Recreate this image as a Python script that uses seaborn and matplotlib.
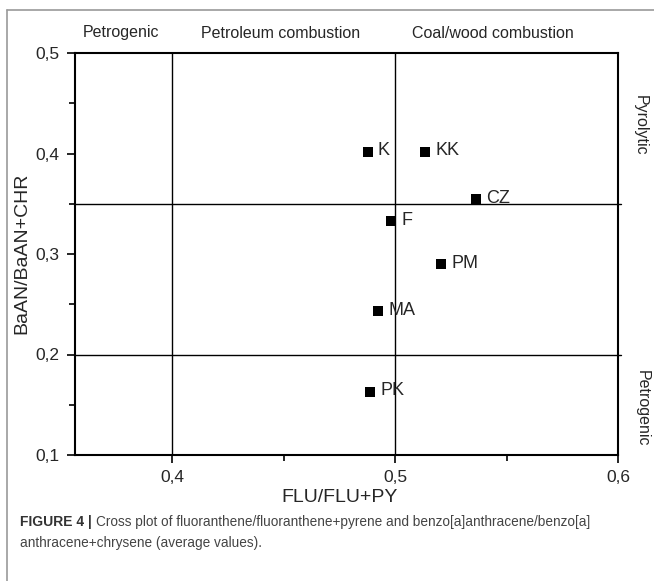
import matplotlib
matplotlib.use("Agg")
import matplotlib.pyplot as plt
from matplotlib.lines import Line2D
from matplotlib.ticker import MultipleLocator
import seaborn as sns
import pandas as pd

# data
sites = ["K", "KK", "CZ", "F", "PM", "MA", "PK"]
flu_ratio = [0.4877, 0.5135, 0.5363, 0.4981, 0.5207, 0.4922, 0.4888]
baan_ratio = [0.4018, 0.4018, 0.3544, 0.3331, 0.2900, 0.2433, 0.1630]

x_limits = [0.4, 0.5]      # vertical divisions
y_limits = [0.35, 0.2]     # horizontal divisions

df = pd.DataFrame({"site": sites, "flu": flu_ratio, "baan": baan_ratio})

sns.set_theme(style="white")
plt.rcParams["font.family"] = ["Liberation Sans", "DejaVu Sans"]

W, H = 654, 581
fig = plt.figure(figsize=(W/100, H/100), dpi=100)
ax = fig.add_axes([75/W, 1-455/H, (618-75)/W, (455-53)/H])

sns.scatterplot(data=df, x="flu", y="baan", marker="s", color="black",
                s=45, edgecolor="black", linewidth=0, ax=ax, zorder=3)
for _, r in df.iterrows():
    ax.annotate(r["site"], (r["flu"], r["baan"]), xytext=(7.5, 0.5),
                textcoords="offset points", va="center", ha="left", fontsize=13)

for xv in x_limits:
    ax.axvline(xv, color="black", lw=1)
for yv in y_limits:
    ax.plot([0.3565, 0.6015], [yv, yv], color="black", lw=1, clip_on=False)

ax.set_xlim(0.3565, 0.6)
ax.set_ylim(0.1, 0.5)
ax.set_xticks([0.4, 0.5, 0.6])
ax.xaxis.set_minor_locator(MultipleLocator(0.05))
ax.yaxis.set_major_locator(MultipleLocator(0.1))
ax.yaxis.set_minor_locator(MultipleLocator(0.05))
ax.xaxis.set_major_formatter(lambda v, p: f"{v:.1f}".replace(".", ","))
ax.yaxis.set_major_formatter(lambda v, p: f"{v:.1f}".replace(".", ","))
ax.tick_params(which="both", direction="out", color="black", bottom=True, left=True)
ax.tick_params(which="major", length=6, width=1.2, labelsize=12.5, pad=5)
ax.tick_params(which="minor", length=4, width=1.2)
for sp in ax.spines.values():
    sp.set_color("black")
    sp.set_linewidth(1.5)

ax.set_xlabel("")
ax.set_ylabel("")
fig.text(340/W, 1-498/H, "FLU/FLU+PY", ha="center", va="center", fontsize=14)
fig.text(22/W, 1-253/H, "BaAN/BaAN+CHR", ha="center", va="center", rotation=90, fontsize=14)

# zone labels
fig.text(121/W, 1-33/H, "Petrogenic", ha="center", va="center", fontsize=11.5)
fig.text(281/W, 1-33/H, "Petroleum combustion", ha="center", va="center", fontsize=11.5)
fig.text(493/W, 1-33/H, "Coal/wood combustion", ha="center", va="center", fontsize=11.5)
fig.text(640/W, 1-125/H, "Pyrolytic", rotation=-90, ha="center", va="center", fontsize=11.5)
fig.text(642/W, 1-408/H, "Petrogenic", rotation=-90, ha="center", va="center", fontsize=11.5)

# frame
fig.add_artist(Line2D([7/W, 1], [1-10/H, 1-10/H], color="#9a9a9a", lw=1.2))
fig.add_artist(Line2D([7/W, 7/W], [0, 1-10/H], color="#9a9a9a", lw=1.2))

# caption
t1 = fig.text(20/W, 1-522/H, "FIGURE 4 |", fontweight="bold", fontsize=10, va="center", color="#333333")
fig.canvas.draw()
bb = t1.get_window_extent()
fig.text((bb.x1 + 4)/W, 1-522/H,
         "Cross plot of fluoranthene/fluoranthene+pyrene and benzo[a]anthracene/benzo[a]",
         fontsize=9.8, va="center", color="#444444")
fig.text(20/W, 1-543/H, "anthracene+chrysene (average values).", fontsize=9.8, va="center", color="#444444")

fig.savefig("out.png", dpi=100)
